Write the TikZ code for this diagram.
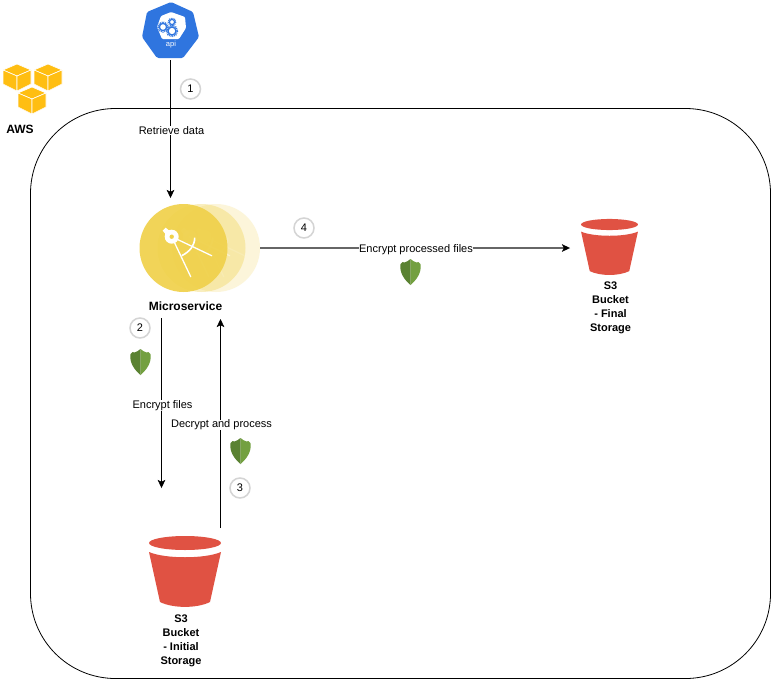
\documentclass[tikz,border=0pt]{standalone}
\usepackage{fontspec}
\setmainfont{Liberation Sans}
\usetikzlibrary{arrows.meta}
\definecolor{bucketRed}{HTML}{E05243}
\definecolor{shieldDark}{HTML}{5A8232}
\definecolor{shieldLight}{HTML}{73A040}
\definecolor{awsYellow}{HTML}{FFBE12}
\definecolor{msYellow}{HTML}{F0D14A}
\definecolor{apiBlue}{HTML}{2F75DF}
\tikzset{%
  tipA/.tip={Stealth[length=8pt,width=7.5pt,inset=1.8pt,color=black,line width=.4pt]},
  flow/.style={black, line width=1pt, -tipA},
  lab/.style={fill=white, inner sep=.2pt, font=\fontsize{11}{12}\selectfont, yshift=-1.5pt, xshift=1pt},
  boldlab/.style={font=\bfseries\fontsize{11}{14}\selectfont, align=center, inner sep=0pt},
  stepno/.style={circle, draw=black!17, line width=1.5pt, fill=white, minimum size=20pt,
    inner sep=0pt, font=\fontsize{11}{12}\selectfont},
  shield/.pic={
    \fill[shieldDark] (0,-13) -- (-3,-10.8) -- (-6,-9.5) -- (-8,-10) -- (-10.2,-7.5)
      .. controls (-11,1) and (-6,8) .. (0,13) -- cycle;
    \fill[shieldLight] (0,-13) -- (3,-10.8) -- (6,-9.5) -- (8,-10) -- (10.2,-7.5)
      .. controls (11,1) and (6,8) .. (0,13) -- cycle;
  },
  bucket/.pic={
    \fill[bucketRed] (0,0) ellipse (36 and 7);
    \fill[bucketRed] (-36,9) .. controls (-20,16) and (20,16) .. (36,9)
      -- (25,59) .. controls (12,65.5) and (-12,65.5) .. (-25,59) -- cycle;
  },
  cube/.pic={
    \fill[awsYellow,draw=white,line width=.6pt] (0,0) -- (14,6) -- (0,12) -- (-14,6) -- cycle;
    \fill[awsYellow,draw=white,line width=.6pt] (-14,6) -- (0,12) -- (0,27) -- (-14,20) -- cycle;
    \fill[awsYellow,draw=white,line width=.6pt] (14,6) -- (0,12) -- (0,27) -- (14,20) -- cycle;
  },
  dividers/.pic={
    \draw[white, line width=1.3pt, line cap=round] (0,0) -- (19,40);
    \draw[white, line width=1.3pt, line cap=round] (0,0) -- (40,19);
    \draw[white, line width=1.6pt] (10,19) .. controls (18,15) and (23,9) .. (23,1);
    \fill[white] (-9,-6) -- (-6,-9) -- (0,-4) -- (-4,0) -- cycle;
    \fill[white] (0,0) circle (7);
  },
  gear/.style={apiBlue, line width=#1, dash pattern=on .9pt off .9pt},
}
\begin{document}
\begin{tikzpicture}[x=1pt,y=-1pt]
\path[use as bounding box, fill=white] (0,0) rectangle (771,680);
% outer frame
\draw[black, line width=.8pt, rounded corners=85pt] (30.5,108.5) rectangle (770.5,678.5);
% aws logo
\pic at (17,64) {cube};
\pic at (48,64) {cube};
\pic at (32,87) {cube};
\node[font=\bfseries\fontsize{12}{14}\selectfont, inner sep=0pt] (awsText) at (20,129) {AWS};
% api icon
\fill[apiBlue, rounded corners=1.5pt] (171,2) -- (193,12) -- (199,37) -- (183,58) -- (157,58) -- (142,37) -- (147,12) -- cycle;
\fill[white, rounded corners=1pt] (171,12) -- (185,17) -- (186,28) -- (179,39) -- (162,39) -- (157,27) -- (161,16) -- cycle;
\draw[apiBlue, line width=1.3pt] (163,27) circle (3.6);
\draw[gear=1.4pt] (163,27) circle (5);
\draw[apiBlue, line width=1.2pt] (172,22) circle (2.6);
\draw[gear=1.2pt] (172,22) circle (3.8);
\draw[apiBlue, line width=1.4pt] (172,31) circle (4);
\draw[gear=1.5pt] (172,31) circle (5.5);
\node[white, font=\fontsize{7.5}{8}\selectfont, inner sep=0pt] (apiText) at (171,44.5) {api};
\coordinate (apiOut) at (170.5,60);
\coordinate (msIn) at (170.5,198);
% microservice
\fill[msYellow, opacity=.2] (216,248) circle (44);
\begin{scope}[opacity=.45]
\pic at (204.7,236.7) {dividers};
\end{scope}
\fill[msYellow, opacity=.35] (201.5,248) circle (44);
\begin{scope}[opacity=.45]
\pic at (189.7,236.7) {dividers};
\end{scope}
\fill[msYellow, opacity=.92] (183.5,248) circle (44);
\pic at (171.7,236.7) {dividers};
\fill[msYellow] (171.7,236.7) circle (2.2);
\node[font=\bfseries\fontsize{12}{14}\selectfont, inner sep=0pt] (msText) at (185.5,306) {Microservice};
% buckets
\pic at (185,543) {bucket};
\pic[scale=.79] at (609.5,224.5) {bucket};
\node[boldlab] (initText) at (181,640.8) {S3\\Bucket\\- Initial\\Storage};
\node[boldlab] (finalText) at (610.5,307.8) {S3\\Bucket\\- Final\\Storage};
% connectors
\coordinate (msOut) at (260,248);
\coordinate (finalIn) at (570,248);
\coordinate (encFrom) at (161.5,318);
\coordinate (encTo) at (161.5,488);
\coordinate (decFrom) at (220.5,528);
\coordinate (decTo) at (220.5,319);
\draw[flow] (apiOut) -- node[lab] (retrieveLab) {Retrieve data} (msIn);
\draw[flow, draw=black!60, line width=1.5pt] (msOut) -- node[lab] (procLab) {Encrypt processed files} (finalIn);
\draw[flow] (encFrom) -- node[lab,pos=.507] (encLab) {Encrypt files} (encTo);
\draw[flow] (decFrom) -- node[lab] (decLab) {Decrypt and process} (decTo);
% kms shields
\pic at (140.5,362) {shield};
\pic at (240.5,451) {shield};
\pic at (410.5,272) {shield};
% step numbers
\node[stepno] (stepA) at (190.5,89) {1};
\node[stepno] (stepB) at (140,328) {2};
\node[stepno] (stepC) at (240,488) {3};
\node[stepno] (stepD) at (304,228) {4};
\end{tikzpicture}
\end{document}
